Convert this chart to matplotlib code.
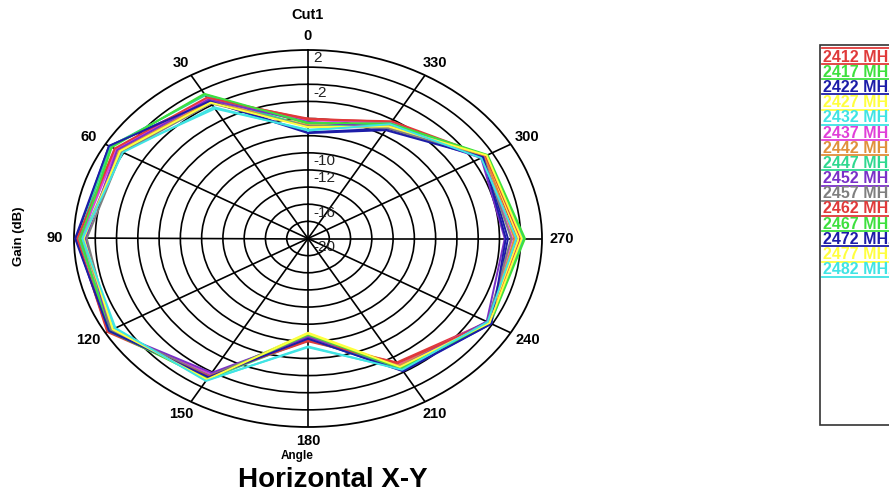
import numpy as np
import matplotlib
matplotlib.use("Agg")
import matplotlib.pyplot as plt
from matplotlib.lines import Line2D
from matplotlib.patches import Rectangle

plt.rcParams['font.family'] = ['Liberation Sans', 'DejaVu Sans']

angles_deg = [0, 30, 60, 90, 120, 150, 180, 210, 240, 270, 300, 330]
angle_labels = ["0", "30", "60", "90", "120", "150", "180", "210", "240", "270", "300", "330"]
radial_labels = ["2", "-2", "-10", "-12", "-16", "-20"]
radial_label_values = [2, -2, -10, -12, -16, -20]

freqs = ["2412 MHz", "2417 MHz", "2422 MHz", "2427 MHz", "2432 MHz", "2437 MHz",
         "2442 MHz", "2447 MHz", "2452 MHz", "2457 MHz", "2462 MHz", "2467 MHz",
         "2472 MHz", "2477 MHz", "2482 MHz"]
colors = ["#e03a3a", "#3ee03e", "#1c1ca8", "#ffff40", "#40e4e4", "#e040d8",
          "#e0903c", "#30d890", "#7a30c8", "#808080", "#e03a3a", "#3ee03e",
          "#1c1ca8", "#ffff40", "#40e4e4"]

g2412 = [-6.0, -1.2, 0.9, 1.5, 1.6, -1.6, -8.0, -3.3, -0.5, -0.3, -0.8, -4.3]
g2417 = [-6.6, -0.6, 1.4, 1.2, 1.3, -1.3, -8.9, -2.6, -0.3, 0.3, -0.6, -4.6]
g2422 = [-7.6, -1.4, 1.6, 1.8, 1.7, -1.5, -8.3, -2.2, -0.1, -1.2, -0.9, -5.2]
g2427 = [-6.9, -1.6, 0.6, 1.0, 1.2, -1.1, -9.0, -2.8, -0.4, -0.2, -0.7, -4.9]
g2432 = [-7.3, -2.5, 0.3, 1.3, 1.0, -0.9, -7.3, -2.4, -0.6, -0.5, -1.1, -4.7]
g2437 = [-6.2, -1.1, 0.8, 1.4, 1.5, -1.7, -8.4, -3.0, -0.5, -0.8, -1.0, -4.4]
g2442 = [-6.8, -1.5, 0.5, 1.1, 1.4, -1.2, -8.6, -2.9, -0.4, -0.6, -0.8, -4.8]
g2447 = [-7.0, -0.7, 1.5, 1.6, 1.3, -1.0, -8.2, -2.5, -0.2, 0.2, -0.6, -4.5]
g2452 = [-6.4, -1.3, 0.7, 0.9, 1.5, -1.9, -8.5, -2.7, -0.6, -1.5, -1.2, -5.0]
g2457 = [-6.9, -1.8, 0.2, 0.8, 1.4, -1.5, -8.7, -2.4, -0.5, -0.9, -1.0, -5.1]
g2462 = [-6.1, -1.0, 1.0, 1.7, 1.8, -1.4, -8.1, -3.2, -0.3, 0.0, -0.7, -4.2]
g2467 = [-6.5, -0.5, 1.3, 1.4, 1.6, -1.1, -8.8, -2.5, -0.2, 0.4, -0.5, -4.5]
g2472 = [-7.7, -1.5, 1.6, 1.9, 1.6, -1.3, -8.3, -2.1, -0.1, -1.4, -1.0, -5.4]
g2477 = [-7.0, -1.7, 0.4, 1.1, 1.2, -1.0, -8.9, -2.7, -0.3, 0.1, -0.6, -4.9]
g2482 = [-7.4, -2.3, 0.1, 1.2, 0.9, -0.8, -7.4, -2.3, -0.5, -0.4, -1.2, -4.6]
series = [g2412, g2417, g2422, g2427, g2432, g2437, g2442, g2447, g2452, g2457,
          g2462, g2467, g2472, g2477, g2482]

W, H = 889, 500
fig = plt.figure(figsize=(W / 100, H / 100), dpi=100)

cx, cy, rx, ry = 308, 238.5, 234, 188.5
ax = fig.add_axes([(cx - rx) / W, (H - cy - ry) / H, 2 * rx / W, 2 * ry / H],
                  projection='polar')
ax.set_aspect('auto')
ax.set_theta_zero_location('N')
ax.set_theta_direction(1)
ax.set_rlim(-20, 2)
ax.set_thetagrids(angles_deg, labels=[])
ax.set_rgrids(np.arange(-18, 2, 2), labels=[])
ax.grid(True, color='black', linewidth=1.2, linestyle='-')
ax.spines['polar'].set_color('black')
ax.spines['polar'].set_linewidth(1.3)
ax.set_facecolor('white')

th = np.deg2rad(angles_deg + [angles_deg[0]])
for vals, col in zip(series, colors):
    ax.plot(th, vals + [vals[0]], color=col, linewidth=1.4, zorder=3)

# angle labels outside
for a, lab in zip(angles_deg, angle_labels):
    t = np.deg2rad(a)
    dx, dy = -np.sin(t), np.cos(t)
    ax.annotate(lab, xy=(t, 2), xytext=(dx * 14, dy * 10), textcoords='offset points',
                ha='center', va='center', fontsize=10.5, fontweight='bold',
                annotation_clip=False)

# radial labels along 0 spoke
for v, lab in zip(radial_label_values, radial_labels):
    ax.annotate(lab, xy=(0, v), xytext=(4, -6), textcoords='offset points',
                ha='left', va='center', fontsize=11, color='#222222',
                annotation_clip=False, zorder=5)

fig.text(cx / W, 1 - 15 / H, "Cut1", ha='center', va='center', fontsize=10.5, fontweight='bold')
fig.text(297 / W, 1 - 456 / H, "Angle", ha='center', va='center', fontsize=8.5, fontweight='bold')
fig.text(333 / W, 1 - 480 / H, "Horizontal X-Y", ha='center', va='center', fontsize=20,
         fontweight='bold')
fig.text(19 / W, 1 - 236 / H, "Gain (dB)", ha='center', va='center', fontsize=9.5,
         fontweight='bold', rotation=90)

# legend box (cut off at right edge)
lx0, ly0, ly1 = 820, 45, 425
fig.patches.append(Rectangle((lx0 / W, 1 - ly1 / H), (W - lx0 + 20) / W, (ly1 - ly0) / H,
                             transform=fig.transFigure, facecolor='white',
                             edgecolor='#333333', linewidth=1.2))
fig.lines.append(Line2D([822 / W, 1.0], [1 - 48 / H] * 2, transform=fig.transFigure,
                        color=colors[0], linewidth=1.3))
for i, (lab, col) in enumerate(zip(freqs, colors)):
    yc = 57 + 15.2 * i
    fig.text(823 / W, 1 - yc / H, lab, ha='left', va='center', fontsize=11.5,
             fontweight='bold', color=col)
    fig.lines.append(Line2D([822 / W, 1.0], [1 - (yc + 7) / H] * 2,
                            transform=fig.transFigure, color=col, linewidth=1.3))

fig.savefig("out.png", dpi=100, facecolor='white')
